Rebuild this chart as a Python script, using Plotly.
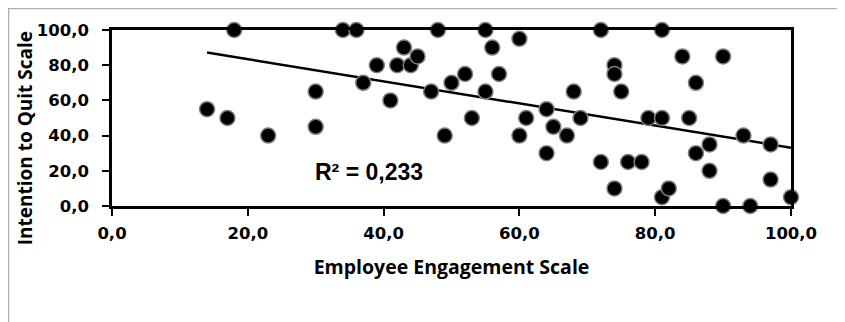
import numpy as np
import plotly.graph_objects as go

# Data
engagement = [14, 17, 18, 23, 30, 30, 34, 36, 37, 39, 41, 42, 43, 44, 45, 47, 48, 49, 50, 52,
              53, 55, 55, 56, 57, 60, 60, 61, 64, 64, 65, 67, 68, 69, 72, 72, 74, 74, 74, 75,
              76, 78, 79, 81, 81, 81, 82, 84, 85, 86, 86, 88, 88, 90, 90, 93, 94, 97, 97, 100]
intention = [55, 50, 100, 40, 65, 45, 100, 100, 70, 80, 60, 80, 90, 80, 85, 65, 100, 40, 70, 75,
             50, 100, 65, 90, 75, 95, 40, 50, 55, 30, 45, 40, 65, 50, 100, 25, 10, 80, 75, 65,
             25, 25, 50, 100, 50, 5, 10, 85, 50, 70, 30, 35, 20, 85, 0, 40, 0, 35, 15, 5]
x_ticks = [0, 20, 40, 60, 80, 100]
y_ticks = [0, 20, 40, 60, 80, 100]
r2_label = "R² = 0,233"
x_title = "Employee Engagement Scale"
y_title = "Intention to Quit Scale"

# Linear trendline computed from the data
xs = np.array(engagement, dtype=float)
ys = np.array(intention, dtype=float)
slope, intercept = np.polyfit(xs, ys, 1)
trend_x = np.array([xs.min(), xs.max()])
trend_y = slope * trend_x + intercept

tick_font = dict(family="DejaVu Sans, sans-serif", size=16.5, color="#000000", weight="bold")
xtitle_font = dict(family="Open Sans, sans-serif", size=19.5, color="#000000", weight="bold")
ytitle_font = dict(family="Open Sans, sans-serif", size=19, color="#000000", weight="bold")

fig = go.Figure()
fig.add_trace(go.Scatter(
    x=trend_x, y=trend_y, mode="lines",
    line=dict(color="#000000", width=2.5), showlegend=False, hoverinfo="skip"))
fig.add_trace(go.Scatter(
    x=engagement, y=intention, mode="markers",
    marker=dict(size=15, color="#000000", line=dict(color="#7f7f7f", width=1.5)),
    showlegend=False, cliponaxis=False))

fig.add_annotation(x=37.8, y=19.5, xref="x", yref="y", text=r2_label, showarrow=False,
                   font=dict(family="Liberation Sans, Arial, sans-serif", size=23,
                             color="#000000", weight="bold"))

# Y-axis title placed as in the reference (below the plot centre)
fig.add_annotation(x=-0.1281, y=0.385, xref="paper", yref="paper", text=y_title,
                   textangle=-90, showarrow=False, xanchor="center", yanchor="middle",
                   font=ytitle_font)

# Outer chart-area border
fig.add_shape(type="rect", xref="paper", yref="paper",
              x0=-0.1524, x1=1.3, y0=-0.8, y1=1.122,
              line=dict(color="#b0b0b0", width=1.5), layer="below")

fig.update_layout(
    width=845, height=322,
    margin=dict(l=104, r=62, t=22, b=124),
    paper_bgcolor="#ffffff", plot_bgcolor="#ffffff",
    separators=", ",
    showlegend=False,
)
fig.update_xaxes(
    range=[0, 100], tickvals=x_ticks, tickformat=".1f",
    showgrid=False, zeroline=False,
    showline=True, linecolor="#000000", linewidth=2.5, mirror=True,
    ticks="outside", ticklen=7, tickwidth=2, tickcolor="#000000",
    tickfont=tick_font, ticklabelstandoff=3,
    title=dict(text=x_title, font=xtitle_font, standoff=19),
)
fig.update_yaxes(
    range=[0, 100], tickvals=y_ticks, tickformat=".1f",
    showgrid=False, zeroline=False,
    showline=True, linecolor="#000000", linewidth=2.5, mirror=True,
    ticks="outside", ticklen=7, tickwidth=2, tickcolor="#000000",
    tickfont=tick_font, ticklabelstandoff=10,
)

fig.write_html("out.html")
